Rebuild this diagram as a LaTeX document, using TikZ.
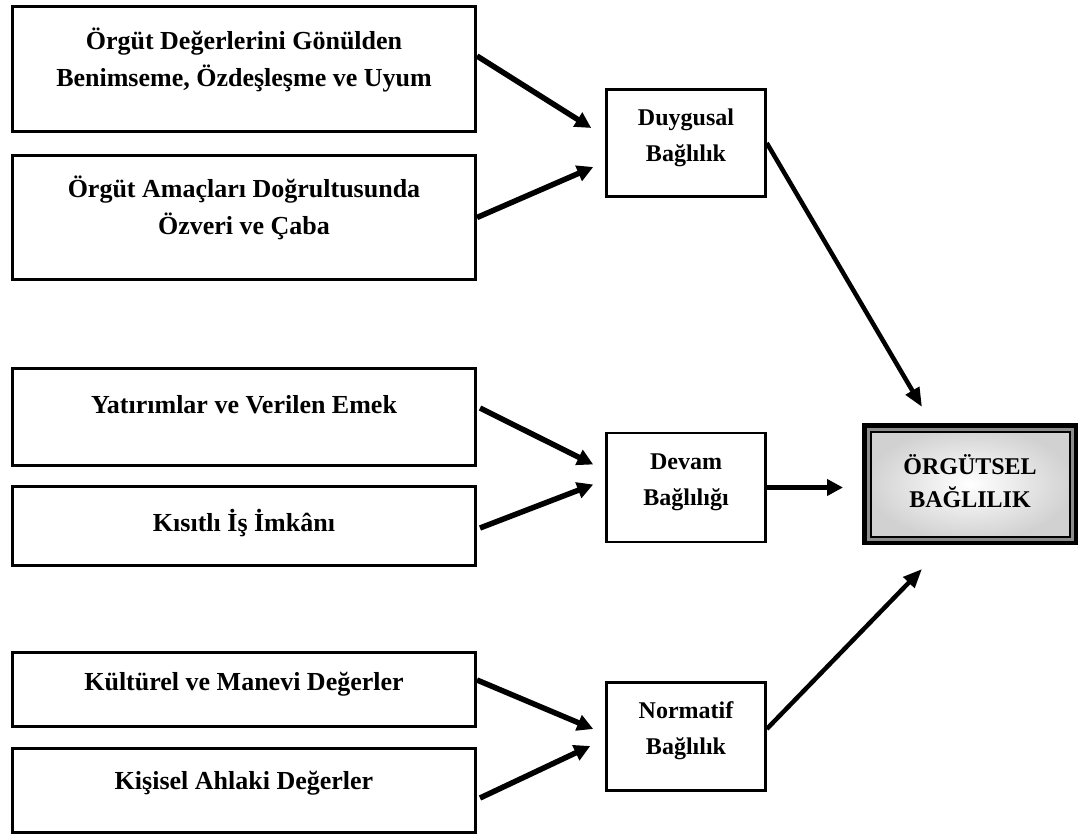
\documentclass[tikz,border=0pt]{standalone}
\usepackage{fontspec}
\setmainfont{Liberation Serif}
\usetikzlibrary{arrows.meta,positioning,calc}
\tikzset{
	%Define standard arrow tip
	>={Triangle[length=16pt,width=16pt]},
	%Define style for the left boxes
	kutu/.style={
		rectangle,
		draw=black, line width=3pt,
		minimum width=463pt,
		align=center,
		font=\bfseries\fontsize{26}{37}\selectfont},
	%Define style for the middle boxes
	ara/.style={
		rectangle,
		draw=black, line width=2.5pt,
		minimum width=159pt,
		minimum height=108pt,
		align=center,
		font=\bfseries\fontsize{24}{36}\selectfont},
	% push the text upwards in a box
	lift/.style={text depth=#1},
	% Define arrow styles
	ok/.style={->, line width=5.5pt},
	cikis/.style={-{Triangle[length=19pt,width=15pt]}, line width=4.5pt}
}
\begin{document}
\begin{tikzpicture}[x=1pt, y=1pt]
	\useasboundingbox[fill=white] (0,0) rectangle (1083,839);
	
	\node[kutu, minimum height=125pt, lift=24pt] (degerler) at (244,770) {Örgüt Değerlerini Gönülden\\Benimseme, Özdeşleşme ve Uyum};
	\node[kutu, minimum height=124pt, lift=25pt, below = 21pt of degerler] (amaclar) {Örgüt Amaçları Doğrultusunda\\Özveri ve Çaba};
	
	\node[kutu, minimum height=97pt, lift=26pt, below = 86pt of amaclar] (yatirim) {Yatırımlar ve Verilen Emek};
	\node[kutu, minimum height=79pt, lift=11pt, below = 18pt of yatirim] (kisitli) {Kısıtlı İş İmkânı};
	
	\node[kutu, minimum height=74pt, lift=16pt, below = 84pt of kisitli] (kultur) {Kültürel ve Manevi Değerler};
	\node[kutu, minimum height=84pt, lift=20pt, below = 19pt of kultur] (ahlak) {Kişisel Ahlaki Değerler};
	
	\node[ara, minimum height=107pt, lift=15pt] (duygusal) at (686,696) {Duygusal\\Bağlılık};
	\node[ara, minimum height=109pt, lift=15pt, below = 234pt of duygusal] (devam) {Devam\\Bağlılığı};
	\node[ara, lift=17pt, below = 138pt of devam] (normatif) {Normatif\\Bağlılık};
	
	\node[rectangle, draw=black, line width=9pt, minimum width=207pt, minimum height=113pt,
		inner color=white, outer color=black!18, align=center, lift=6pt,
		font=\bfseries\fontsize{24}{33}\selectfont] (orgutsel) at (970,355) {ÖRGÜTSEL\\BAĞLILIK};
	\draw[line width=3pt, black!45] ([shift={(6,-6)}]orgutsel.north west) rectangle ([shift={(-6,6)}]orgutsel.south east);
	\draw[line width=1pt] ([shift={(9,-9)}]orgutsel.north west) rectangle ([shift={(-9,9)}]orgutsel.south east);
	
	\draw[ok] ([yshift=13pt]degerler.east) -- ($(duygusal.west)+(-14,15)$);
	\draw[ok] (amaclar.east) -- ($(duygusal.west)+(-12,-24)$);
	\draw[cikis] (duygusal.east) -- ($(orgutsel.north west)+(60,16)$);
	
	\draw[ok] ($(yatirim.east)+(3,9)$) -- ($(devam.west)+(-12,23)$);
	\draw[ok] ($(kisitli.east)+(3,-2)$) -- ($(devam.west)+(-12,3)$);
	\draw[ok] (devam.east) -- ($(orgutsel.west|-devam.east)+(-19,0)$);
	
	\draw[ok] ($(kultur.east)+(0,9.5)$) -- ($(normatif.west)+(-12,7.5)$);
	\draw[ok] ($(ahlak.east)+(3,-7.5)$) -- ($(normatif.west)+(-15,-9.5)$);
	\draw[cikis] ($(normatif.east)+(0,7.5)$) -- ($(orgutsel.south west)+(60,-24)$);
	
\end{tikzpicture}
\end{document}
